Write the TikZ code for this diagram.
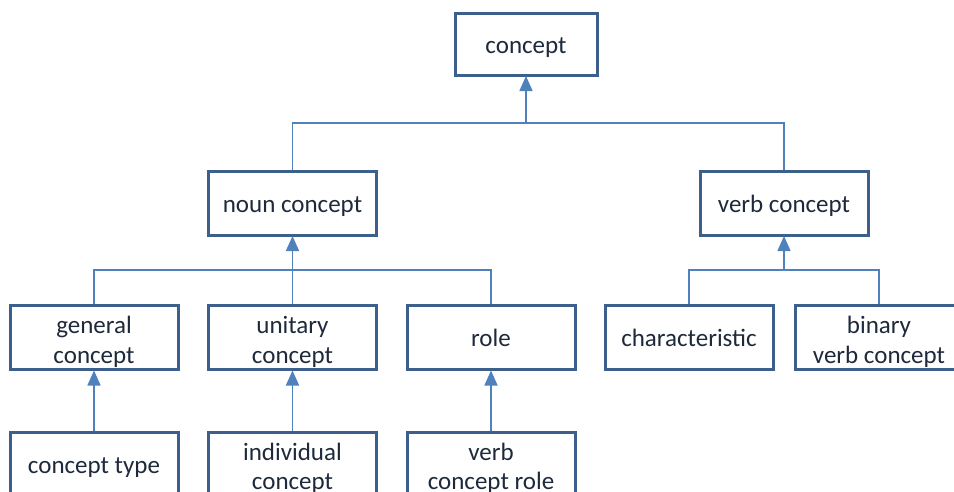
\documentclass[tikz,border=0pt]{standalone}
\usepackage{fontspec}
\setmainfont{Carlito}
\usetikzlibrary{arrows.meta}
\definecolor{boxline}{HTML}{3D5F8C}
\definecolor{linkblue}{HTML}{4F81BD}
\definecolor{textdark}{HTML}{1E2A3C}
% line struts so every label sits at the same height in its box
\newcommand{\labelstrut}{\rule[-6pt]{0pt}{30pt}}
\newcommand{\topstrut}{\rule{0pt}{28pt}}
\begin{document}
\begin{tikzpicture}[x=1pt,y=-1pt,
  concept box/.style={draw=boxline, line width=3pt, fill=white,
    minimum width=168pt, minimum height=64pt, inner sep=0pt, outer sep=1.5pt,
    align=center, text=textdark, font=\fontsize{25}{29.5}\selectfont,
    execute at begin node=\labelstrut, execute at end node=\labelstrut},
  link/.style={draw=linkblue, line width=1.6pt},
  isa/.style={link, -{Triangle[width=13pt,length=15pt]}, shorten >=-0.5pt}]
\useasboundingbox (0,0) rectangle (954,491);
\clip (0,0) rectangle (954,491);

% top level
\node[concept box, minimum width=142pt, minimum height=62pt] (top) at (526,44) {concept};

% second level
\node[concept box] (noun) at (292.5,203) {noun concept};
\node[concept box] (verb) at (784,203) {verb concept};

% third level
\node[concept box] (gen)  at (94,337.5)    {\topstrut general\\concept};
\node[concept box] (unit) at (292.5,337.5) {\topstrut unitary\\concept};
\node[concept box] (role) at (491,337.5)   {role};
\node[concept box] (char) at (689,337.5)   {characteristic};
\node[concept box] (bin)  at (879,337.5)   {\topstrut binary\\verb concept};

% fourth level
\node[concept box] (ctype) at (94,464)    {concept type};
\node[concept box] (indiv) at (292.5,464) {\topstrut individual\\concept};
\node[concept box] (vrole) at (491,464)   {\topstrut verb\\concept role};

% generalisation buses
\coordinate (busTop)  at (526,123);
\coordinate (busNoun) at (292.5,270);
\coordinate (busVerb) at (784,270);

\draw[link] (noun.north) |- (busTop) -| (verb.north);
\draw[isa] (busTop) -- (top.south);

\draw[link] (gen.north) |- (busNoun) -| (role.north);
\draw[link] (unit.north) -- (busNoun);
\draw[isa] (busNoun) -- (noun.south);

\draw[link] (char.north) |- (busVerb) -| (bin.north);
\draw[isa] (busVerb) -- (verb.south);

% direct specialisations
\draw[isa] (ctype.north) -- (gen.south);
\draw[isa] (indiv.north) -- (unit.south);
\draw[isa] (vrole.north) -- (role.south);
\end{tikzpicture}
\end{document}
